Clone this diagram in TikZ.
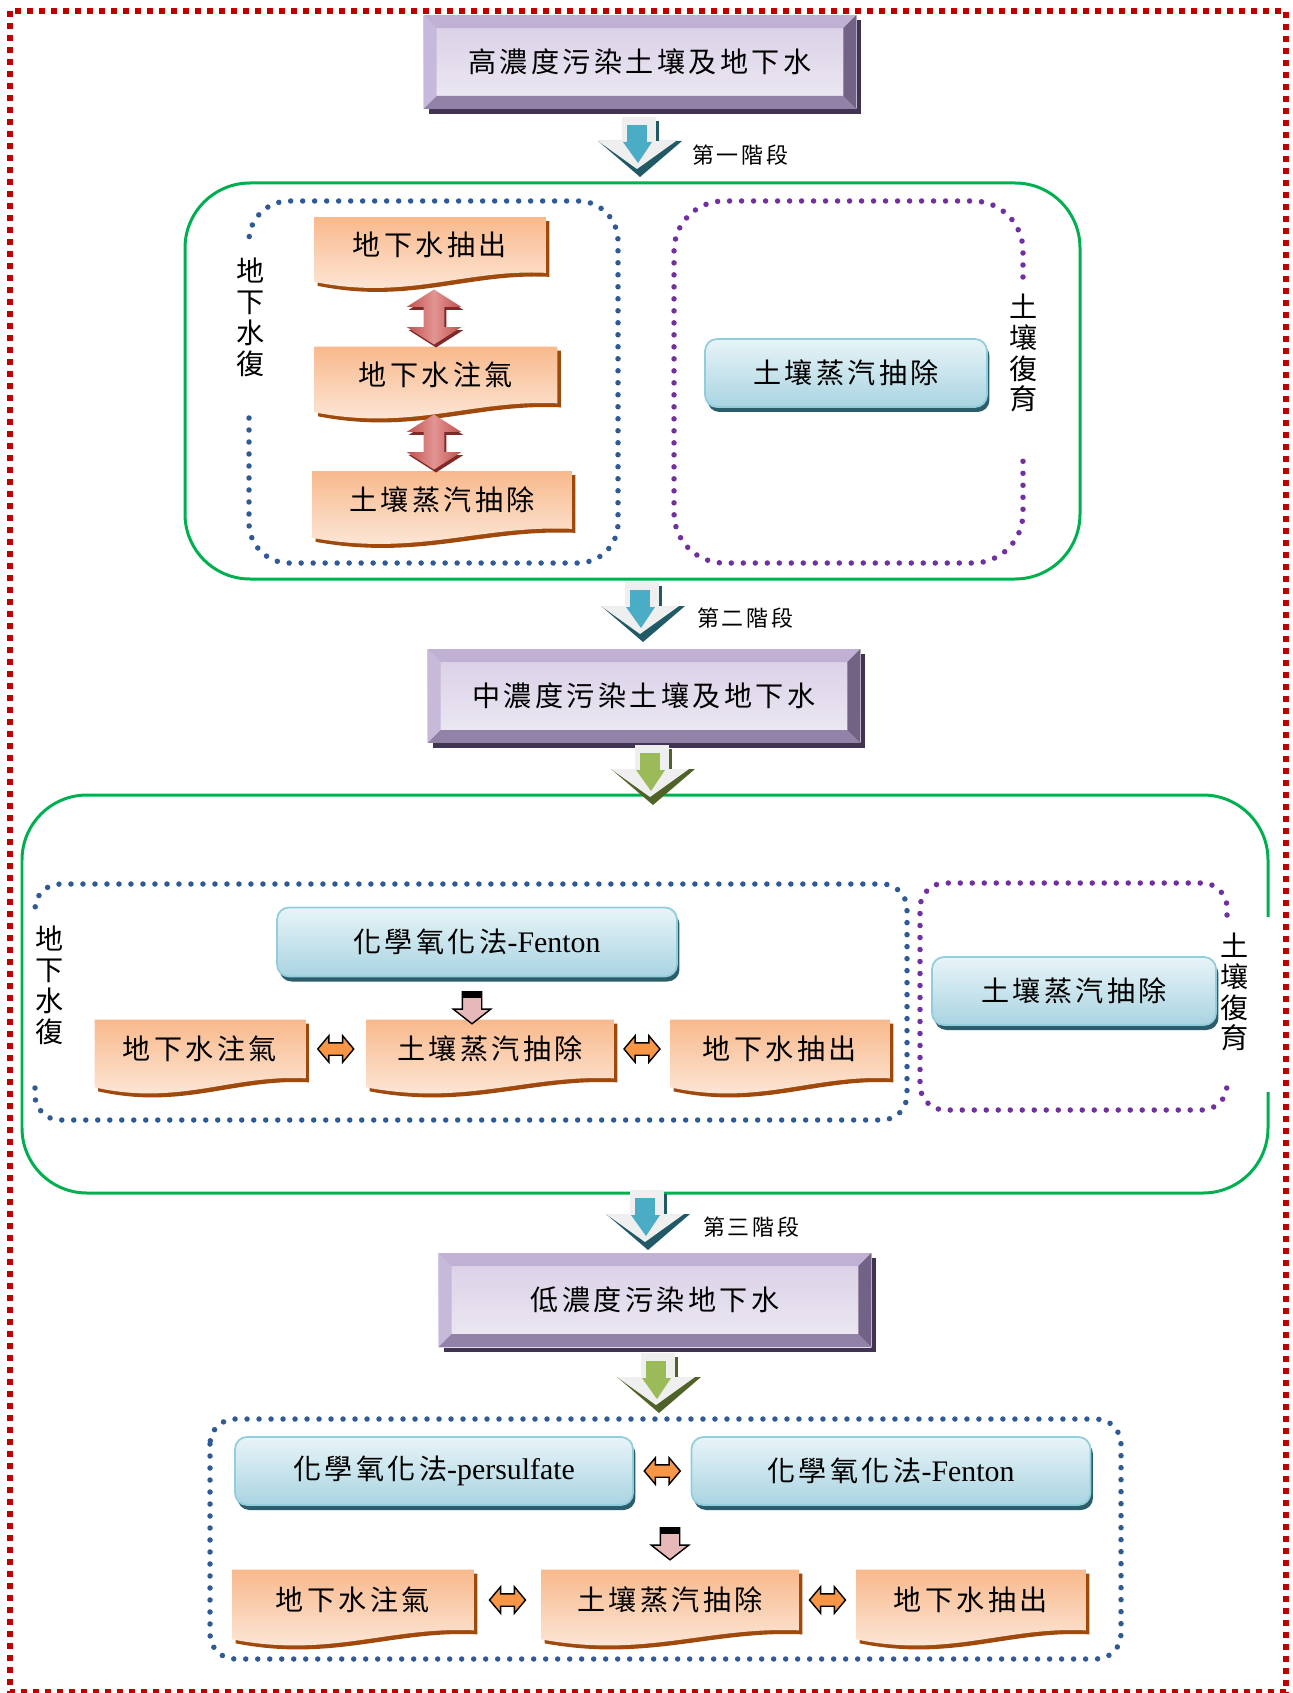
\documentclass[tikz,border=0pt]{standalone}
\usepackage{fontspec}
\setmainfont{Liberation Serif}
\newfontfamily\cjk[LetterSpace=12]{Noto Sans CJK TC}
\newfontfamily\cjkside{Noto Sans CJK TC}
\usetikzlibrary{shapes.arrows,shadows,calc}

\definecolor{borderred}{HTML}{C00000}
\definecolor{groupgreen}{HTML}{00B050}
\definecolor{dotblue}{HTML}{2F5A96}
\definecolor{dotpurple}{HTML}{7030A0}
\definecolor{stagetop}{HTML}{BFB0D4}
\definecolor{stageleft}{HTML}{C6B9DA}
\definecolor{stagebottom}{HTML}{9282A8}
\definecolor{stageright}{HTML}{716286}
\definecolor{stageface1}{HTML}{D8CEE5}
\definecolor{stageface2}{HTML}{EEEAF4}
\definecolor{stageshadow}{HTML}{403452}
\definecolor{arrowgray}{HTML}{EFEFEF}
\definecolor{teal}{HTML}{4BACC6}
\definecolor{tealdark}{HTML}{215967}
\definecolor{olive}{HTML}{9BBB59}
\definecolor{olivedark}{HTML}{4F6228}
\definecolor{wavetop}{HTML}{F8B98C}
\definecolor{wavebot}{HTML}{FDEDE2}
\definecolor{wavedark}{HTML}{A0490C}
\definecolor{bluetop}{HTML}{E8F4F8}
\definecolor{bluebot}{HTML}{A9D4E1}
\definecolor{blueline}{HTML}{92CDDC}
\definecolor{blueshadow}{HTML}{2C5D6A}
\definecolor{redarrow}{HTML}{C0504D}
\definecolor{redlight}{HTML}{E29593}
\definecolor{reddark}{HTML}{7E2A28}
\definecolor{orangearrow}{HTML}{F79646}
\definecolor{pinkarrow}{HTML}{E6B9B8}

\pgfdeclarelayer{background}
\pgfsetlayers{background,main}

\newcommand{\latin}[1]{{\rmfamily\fontsize{17}{20}\selectfont #1}}
\newcommand{\wavebg}[1]{%
  \begin{pgfonlayer}{background}
    \fill[wavedark, transform canvas={shift={(0.07cm,-0.08cm)}}]
      (#1.north west) -- (#1.north east) -- (#1.south east)
      .. controls ($(#1.south east)!0.35!(#1.south west)+(0cm,0.08cm)$)
      and ($(#1.south east)!0.6!(#1.south west)+(0cm,-0.56cm)$) .. ([yshift=-0.18cm]#1.south west) -- cycle;
    \shade[top color=wavetop, bottom color=wavebot]
      (#1.north west) -- (#1.north east) -- (#1.south east)
      .. controls ($(#1.south east)!0.35!(#1.south west)+(0cm,0.08cm)$)
      and ($(#1.south east)!0.6!(#1.south west)+(0cm,-0.56cm)$) .. ([yshift=-0.18cm]#1.south west) -- cycle;
  \end{pgfonlayer}}

\tikzset{
  stagebox/.style={rectangle, minimum width=8.66cm, minimum height=1.88cm, inner sep=0pt,
    font=\cjk\fontsize{16}{19}\selectfont, top color=stageface1, bottom color=stageface2,
    drop shadow={shadow xshift=0.1cm, shadow yshift=-0.1cm, fill=stageshadow, opacity=1},
    path picture={
      \path (path picture bounding box.north west) coordinate (bnw)
            (path picture bounding box.north east) coordinate (bne)
            (path picture bounding box.south west) coordinate (bsw)
            (path picture bounding box.south east) coordinate (bse);
      \fill[stagetop] (bnw) -- (bne) -- ([shift={(-0.26cm,-0.26cm)}]bne) -- ([shift={(0.26cm,-0.26cm)}]bnw) -- cycle;
      \fill[stageleft] (bnw) -- (bsw) -- ([shift={(0.26cm,0.26cm)}]bsw) -- ([shift={(0.26cm,-0.26cm)}]bnw) -- cycle;
      \fill[stagebottom] (bsw) -- (bse) -- ([shift={(-0.26cm,0.26cm)}]bse) -- ([shift={(0.26cm,0.26cm)}]bsw) -- cycle;
      \fill[stageright] (bne) -- (bse) -- ([shift={(-0.26cm,0.26cm)}]bse) -- ([shift={(-0.26cm,-0.26cm)}]bne) -- cycle;
    }},
  wavebox/.style={rectangle, inner sep=0pt, minimum height=1.14cm, font=\cjk\fontsize{16}{19}\selectfont},
  bluebox/.style={rectangle, rounded corners=0.24cm, draw=blueline, line width=1pt, inner sep=0pt,
    minimum height=1.36cm, top color=bluetop, bottom color=bluebot, font=\cjk\fontsize{16}{19}\selectfont,
    drop shadow={shadow xshift=0.05cm, shadow yshift=-0.1cm, fill=blueshadow, opacity=1}},
  sidelabel/.style={align=center, inner sep=0pt, font=\cjkside\fontsize{16}{17.6}\selectfont},
  stagelabel/.style={anchor=west, inner sep=0pt, font=\cjk\fontsize{12.5}{15}\selectfont},
  greenframe/.style={groupgreen, line width=0.06cm, rounded corners=1.3cm},
  dotframe/.style={line width=0.11cm, line cap=round, dash pattern=on 0pt off 0.24cm},
  redarrow/.style={double arrow, shape border rotate=90, inner sep=0.2cm, minimum height=1.1cm,
    minimum width=1.08cm, double arrow head extend=0.34cm, double arrow tip angle=115,
    left color=redarrow, right color=redarrow, middle color=redlight,
    drop shadow={shadow xshift=0.04cm, shadow yshift=-0.06cm, fill=reddark, opacity=1}},
  orangearrow/.style={double arrow, draw=black, line width=0.8pt, fill=orangearrow, inner sep=0.11cm,
    minimum height=0.72cm, minimum width=0.5cm, double arrow head extend=0.14cm, double arrow tip angle=100},
  downarrow/.style={single arrow, shape border rotate=270, draw=black, line width=0.8pt, fill=pinkarrow,
    inner sep=0.18cm, minimum height=0.64cm, minimum width=0.72cm, single arrow head extend=0.18cm,
    single arrow tip angle=104,
    path picture={\fill[black] (path picture bounding box.north west) rectangle ([yshift=-0.12cm]path picture bounding box.north east);}},
  pics/stagearrow/.style 2 args={code={
    \fill[#2] (-42,-36) -- (42,-36) -- (0,0) -- cycle;
    \fill[arrowgray] (-42,-36) -- (36,-36) -- (-3,-8) -- cycle;
    \fill[arrowgray] (-18,-60) rectangle (16,-36);
    \fill[#2] (16,-56) rectangle (19,-36);
    \fill[#1] (-13,-52) rectangle (7,-34);
    \fill[#1] (-17,-35) -- (12,-35) -- (-2,-14) -- cycle;
  }}
}

\begin{document}
\begin{tikzpicture}[x=0.02cm, y=-0.02cm]
  \useasboundingbox (0,0) rectangle (1292,1693);

  \draw[borderred, line width=0.12cm, dash pattern=on 0.12cm off 0.12cm] (10,11) rectangle (1286,1692);

  % frames
  \draw[greenframe] (185,183) rectangle (1080,579);
  \draw[greenframe] (1268,917) -- (1268,795) -- (22,795) -- (22,1193) -- (1268,1193) -- (1268,1092);

  \draw[dotframe, dotblue, rounded corners=0.8cm] (249,418) -- (249,563) -- (618,563) -- (618,201) -- (249,201) -- (249,242);
  \draw[dotframe, dotpurple, rounded corners=1cm] (1023,277) -- (1023,201) -- (674,201) -- (674,563) -- (1023,563) -- (1023,455);
  \draw[dotframe, dotblue, rounded corners=0.5cm] (35,1088) -- (35,1120) -- (907,1120) -- (907,884) -- (35,884) -- (35,908);
  \draw[dotframe, dotpurple, rounded corners=0.5cm] (1227,915) -- (1227,883) -- (920,883) -- (920,1110) -- (1227,1110) -- (1227,1093);
  \draw[dotframe, dotblue, rounded corners=0.5cm] (210,1419) rectangle (1121,1659);

  % stages
  \node[stagebox] (high) at (640,62) {高濃度污染土壤及地下水};
  \node[stagebox] (mid) at (644,696) {中濃度污染土壤及地下水};
  \node[stagebox] (low) at (655,1300) {低濃度污染地下水};

  \pic at (640,177) {stagearrow={teal}{tealdark}};
  \pic at (643,642) {stagearrow={teal}{tealdark}};
  \pic at (653,805) {stagearrow={olive}{olivedark}};
  \pic at (648,1250) {stagearrow={teal}{tealdark}};
  \pic at (659,1413) {stagearrow={olive}{olivedark}};

  \node[stagelabel] (st1) at (692,155) {第一階段};
  \node[stagelabel] (st2) at (697,618) {第二階段};
  \node[stagelabel] (st3) at (703,1227) {第三階段};

  % first stage
  \node[sidelabel] (gw1) at (251,317) {地\\下\\水\\復};
  \node[sidelabel] (soil1) at (1024,353) {土\\壤\\復\\育};
  \node[wavebox, minimum width=4.62cm, minimum height=1.1cm] (g1pump) at (430,245) {地下水抽出};
  \node[wavebox, minimum width=4.84cm, minimum height=1.12cm] (g1sparge) at (436,375) {地下水注氣};
  \node[wavebox, minimum width=5.18cm] (g1sve) at (442,500) {土壤蒸汽抽除};
  \node[redarrow] (r1) at (434,317) {};
  \node[redarrow] (r2) at (434,442) {};
  \node[bluebox, minimum width=5.64cm] (g1soil) at (846,373) {土壤蒸汽抽除};

  % second stage
  \node[sidelabel] (gw2) at (50,985) {地\\下\\水\\復};
  \node[sidelabel] (soil2) at (1235,992) {土\\壤\\復\\育};
  \node[bluebox, minimum width=8cm, minimum height=1.38cm] (g2fenton) at (477,942) {化學氧化法\latin{-Fenton}};
  \node[downarrow] (p2) at (472,1004) {};
  \node[wavebox, minimum width=4.2cm, minimum height=1.16cm] (g2sparge) at (200,1049) {地下水注氣};
  \node[wavebox, minimum width=4.94cm, minimum height=1.16cm] (g2sve) at (490,1049) {土壤蒸汽抽除};
  \node[wavebox, minimum width=4.38cm, minimum height=1.16cm] (g2pump) at (780,1049) {地下水抽出};
  \node[orangearrow] (o1) at ($(g2sparge.east)!0.5!(g2sve.west)$) {};
  \node[orangearrow] (o2) at ($(g2sve.east)!0.5!(g2pump.west)$) {};
  \node[bluebox, minimum width=5.68cm] (g2soil) at (1074,991) {土壤蒸汽抽除};

  % third stage
  \node[bluebox, minimum width=7.96cm] (g3persulfate) at (434,1471) {化學氧化法\latin{-persulfate}};
  \node[bluebox, minimum width=7.98cm] (g3fenton) at (891,1471) {化學氧化法\latin{-Fenton}};
  \node[orangearrow] (o3) at ($(g3persulfate.east)!0.5!(g3fenton.west)$) {};
  \node[downarrow] (p3) at (670,1540) {};
  \node[wavebox, minimum width=4.82cm, minimum height=1.2cm] (g3sparge) at (353,1600) {地下水注氣};
  \node[wavebox, minimum width=5.14cm, minimum height=1.2cm] (g3sve) at (670,1600) {土壤蒸汽抽除};
  \node[wavebox, minimum width=4.58cm, minimum height=1.2cm] (g3pump) at (971,1600) {地下水抽出};
  \node[orangearrow] (o4) at ($(g3sparge.east)!0.5!(g3sve.west)$) {};
  \node[orangearrow] (o5) at ($(g3sve.east)!0.5!(g3pump.west)$) {};

  \wavebg{g1pump}
  \wavebg{g1sparge}
  \wavebg{g1sve}
  \wavebg{g2sparge}
  \wavebg{g2sve}
  \wavebg{g2pump}
  \wavebg{g3sparge}
  \wavebg{g3sve}
  \wavebg{g3pump}
\end{tikzpicture}
\end{document}
